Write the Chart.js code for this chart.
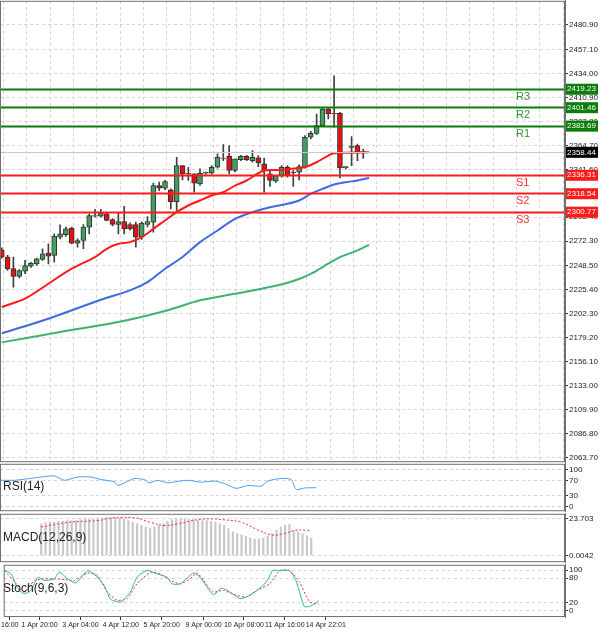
<!DOCTYPE html>
<html lang="en">
<head>
<meta charset="UTF-8">
<title>Gold H4</title>
<script src="https://cdn.jsdelivr.net/npm/chart.js"></script>
<style>
  body { margin: 0; background: #fff; width: 600px; height: 632px; position: relative; overflow: hidden; font-family: "Liberation Sans", Arial, sans-serif; }
  canvas { position: absolute; left: 0; }
  .lbl { position: absolute; left: 3px; font-size: 12px; color: #222; }
</style>
</head>
<body>
<canvas id="main" width="600" height="473" style="top:-5px"></canvas>
<canvas id="rsi" width="600" height="59" style="top:458px"></canvas>
<canvas id="macd" width="600" height="60" style="top:508px"></canvas>
<canvas id="stoch" width="600" height="70" style="top:559px"></canvas>
<div class="lbl" style="top:479px">RSI(14)</div>
<div class="lbl" style="top:530px">MACD(12,26,9)</div>
<div class="lbl" style="top:581px">Stoch(9,6,3)</div>

<script>
// candles (4h bars)
const opens  = [2264,2257,2245.8,2238.4,2243.5,2248.3,2250.5,2254.7,2260.8,2258.6,2276.2,2278.5,2284.9,2270.4,2273,2285.9,2296.4,2296.4,2298.7,2293.2,2288.4,2291.3,2288.4,2288.4,2276.2,2288.4,2290.7,2325.9,2323.4,2321.8,2310.5,2345.2,2337.8,2337.2,2327.5,2337.8,2337.8,2343.6,2352,2354.2,2340.4,2351,2354.2,2350,2352.6,2346.8,2337.2,2330.1,2335.6,2343.6,2338.8,2338.8,2343.6,2372.5,2376.3,2383.7,2399.7,2395.6,2395.6,2342.9,2362.8,2364.4,2358.7];
const highs  = [2266,2258.6,2257,2245,2253.8,2252,2256,2265,2269.8,2279.4,2288.1,2286,2286,2274.6,2288.4,2298.7,2303,2303,2300,2294,2299.3,2306,2290,2290.7,2291,2296.1,2328.2,2329.2,2331,2322.7,2353.2,2345.2,2343.6,2337.2,2342,2339,2345.2,2356.4,2365.4,2364.4,2342,2355,2355,2359.6,2354.8,2352.3,2340.4,2331,2345.2,2345.2,2340.4,2345.8,2374.1,2378.2,2394.9,2401.4,2401.4,2431.8,2396.5,2344.2,2373.1,2366,2361.2];
const lows   = [2256,2244.1,2228.1,2237,2240.9,2247,2249,2253.8,2250.5,2252.2,2274.6,2277,2269.8,2266.6,2265,2279.4,2295.5,2295.5,2292,2287,2279.4,2279.4,2283,2266.6,2274,2286,2281,2321.1,2322,2303.5,2301.9,2331.4,2330.8,2319.5,2326,2337,2337.2,2342.6,2350,2337.2,2339,2350,2350,2348.4,2344.2,2319.5,2325,2329,2334,2334,2325,2331.4,2342.6,2370.9,2375,2382.7,2390.1,2382.1,2333.3,2342,2345.2,2350,2352];
const closes = [2257,2245.8,2238.4,2244.1,2248.9,2251.2,2255.4,2260.2,2257.9,2277.2,2279.4,2284.2,2270.4,2273,2285.9,2297.1,2297.1,2299.3,2292.3,2288.4,2291.3,2284.2,2284.2,2276.2,2289.7,2291.3,2325.9,2323.4,2329.8,2310.5,2345.2,2337.2,2337.2,2328.2,2337.8,2338.8,2343.6,2353.2,2351.6,2340.4,2351.6,2354.2,2351,2353.2,2347.8,2340.4,2330.8,2335.6,2343.6,2335.6,2338.4,2344.2,2372.5,2376.3,2383.7,2399.7,2394.9,2395.3,2342.9,2344.2,2363.8,2358,2358.4];

// moving averages: [bar index, price]
const maRed   = [[0,2208.9],[4,2216.9],[8,2231.3],[12,2245.8],[16,2257],[18,2265],[20,2269.8],[22,2271.4],[24,2276.2],[26,2284.2],[28,2292.3],[30,2300.3],[32,2306.7],[34,2311.5],[36,2316.3],[38,2319.5],[40,2325.9],[42,2330.8],[44,2337.8],[45,2340.4],[48,2341],[51,2342.9],[52,2343.6],[54,2348.4],[56,2354.8],[57,2357.1],[63,2358]];
const maBlue  = [[0,2183.5],[8,2197.6],[17,2215.9],[22,2224.9],[25,2232.9],[28,2245.8],[31,2257],[34,2271.4],[37,2282.6],[40,2293.9],[43,2300.3],[46,2305.1],[49,2308.3],[51,2311.5],[53,2317.9],[55,2322.7],[57,2326.9],[59,2329.2],[61,2330.8],[63,2333.3]];
const maGreen = [[0,2174.8],[10,2184.8],[20,2194.4],[28,2205],[34,2215.3],[40,2221.7],[46,2228.1],[50,2233.9],[53,2240.9],[56,2250.6],[58,2257],[61,2263.4],[63,2268.8]];

const levelNames  = ['R3','R2','R1','S1','S2','S3'];
const levelValues = [2419.23,2401.46,2383.69,2336.31,2318.54,2300.77];
const lastPrice = 2358.44;
const priceTicks = [2480.90,2457.10,2434.00,2410.90,2387.80,2364.70,2341.60,2318.50,2295.40,2272.30,2248.50,2225.40,2202.30,2179.20,2156.10,2133.00,2109.90,2086.80,2063.70];

// indicators
const rsiPts = [[0,71],[2.6,71],[5.2,75],[7.9,80],[10.5,83],[12.5,71],[15.1,80],[17.7,80],[19.7,73],[22.3,67],[23,57],[24.9,68],[26.2,76],[28.2,73],[29.2,64],[30.8,71],[32.8,64],[34.8,68],[36.7,71],[39.4,66],[42,69],[44,62],[46.3,49],[48.6,57],[51.2,55],[52.5,69],[55.1,76],[57.1,73],[58.1,46],[59.7,50],[62,51]];
const macdHist = [20.4,20.9,21.4,21.4,21.9,22,22.5,22.5,22.5,23,23.5,23.5,23.5,24,24,24.5,24.5,24.5,24,23.5,22.5,21.4,20.4,19.3,18.3,17.3,18.3,19.3,20.4,21.9,23,23.5,23.5,23.5,23,23,22.5,22.5,22.5,22,21.4,20.4,19.3,17.3,15.2,14.1,13.1,12.1,11.1,10.5,10.5,11.1,12.6,14.1,16.2,18.3,19.3,19.8,16.2,15.2,14.1,12.6,11.1];
const macdSignal = [[0,18.3],[6.6,21.4],[13.1,22.5],[16.4,24.1],[21.7,24.1],[24.9,21.4],[28.2,19.3],[31.5,20.4],[34.8,22.5],[38.1,23.5],[42,22.9],[45.9,21.4],[49.9,16.2],[53.1,13.1],[55.8,14.1],[58.4,16.2],[61,16.2],[62,15.7]];
const stochK = [[0,99],[1.3,90.4],[2.6,54.1],[3.9,42.1],[5.2,50.1],[6.6,82.3],[7.9,74.3],[9.8,78.3],[10.8,94.4],[12.5,78.3],[14.1,68.6],[16.4,98.4],[17.7,90.4],[19.7,62.2],[21,28.4],[23,21.9],[24.9,46.1],[26.2,82.3],[28.2,99],[30.2,90.4],[32.2,82.3],[33.1,66.2],[34.8,66.2],[37.4,92.8],[38.7,82.3],[41.3,39.6],[43,55.7],[44.6,46.1],[46.6,30],[48.6,38],[51.2,62.2],[52.2,78.3],[53.1,99],[54.5,98.4],[56.4,98.4],[57.7,74.3],[59.4,9.9],[61,13.9],[62.2,25.2]];
const stochD = [[0,98.4],[2,70.3],[3.9,46.1],[5.9,74.3],[7.9,78.3],[9.8,78.3],[11.8,76.7],[13.8,74.3],[16.4,92.8],[18.4,86],[20.3,46.1],[22.3,26],[24.3,30],[26.2,66.2],[28.9,94.4],[30.8,90.4],[32.8,74.3],[34.8,66.2],[36.7,78.3],[38.1,92.8],[39.4,74.3],[41.3,46.1],[43.3,50.1],[45.9,38],[47.9,34],[49.9,50.1],[52.5,66.2],[54.5,98.4],[56.4,99],[58.4,70.3],[60.4,21.9],[62.2,16.3]];

const timeTicks  = [1, 6.9, 15, 23, 31.1, 39.4, 47.4, 55.5, 63.6];
const timeLabels = ['16:00','1 Apr 20:00','3 Apr 04:00','4 Apr 12:00','5 Apr 20:00','9 Apr 00:00','10 Apr 08:00','11 Apr 16:00','14 Apr 22:01'];

Chart.defaults.font.family = '"Liberation Sans", Arial, sans-serif';
Chart.defaults.font.size = 8;
Chart.defaults.color = '#222';

const xy = arr => arr.map(p => ({ x: p[0], y: p[1] }));
const frame = {
  id: 'frame',
  afterDraw(c) {
    const a = c.chartArea, g = c.ctx;
    g.save(); g.strokeStyle = '#707070'; g.lineWidth = 1;
    g.strokeRect(a.left + 0.5, a.top + 0.5, a.right - a.left - 1, a.bottom - a.top - 1);
    g.restore();
  }
};
const dashGrid = { color: '#d4d4d4', lineWidth: 1, drawTicks: true, tickLength: 3, tickColor: '#333' };
function yAxis(min, max, ticks, fmt) {
  return {
    position: 'right', min, max,
    afterFit: s => { s.width = 35; },
    afterBuildTicks: s => { s.ticks = ticks.map(v => ({ value: v })); },
    ticks: { padding: 1, callback: fmt, autoSkip: false },
    grid: dashGrid,
    border: { display: true, color: '#707070', dash: [3, 3] }
  };
}
const baseOpts = {
  responsive: false, animation: false, devicePixelRatio: 1,
  layout: { padding: 0 },
  plugins: { legend: { display: false }, tooltip: { enabled: false } }
};

// ---- main price chart ----
const idx = opens.map((_, i) => i);
const isUp = idx.map(i => closes[i] >= opens[i]);
const levelsPlugin = {
  id: 'levels',
  afterDatasetsDraw(c) {
    const g = c.ctx, y = c.scales.y, a = c.chartArea;
    g.save();
    let py = Math.round(y.getPixelForValue(lastPrice)) + 0.5;
    g.strokeStyle = '#c8c8c8'; g.lineWidth = 1;
    g.beginPath(); g.moveTo(a.left, py); g.lineTo(a.right, py); g.stroke();
    levelValues.forEach((v, i) => {
      const col = i < 3 ? '#0a7d0a' : '#ff1a1a';
      const ly = Math.round(y.getPixelForValue(v)) + 0.5;
      g.strokeStyle = col; g.lineWidth = 2;
      g.beginPath(); g.moveTo(a.left, ly); g.lineTo(a.right, ly); g.stroke();
      g.fillStyle = i < 3 ? '#2e9a2e' : '#ff3030';
      g.font = '11px "Liberation Sans", Arial';
      g.textAlign = 'left'; g.textBaseline = 'middle';
      g.fillText(levelNames[i], 516, ly + 7);
    });
    g.restore();
  },
  afterDraw(c) {
    const g = c.ctx, y = c.scales.y;
    g.save();
    const box = (v, bg) => {
      const by = y.getPixelForValue(v);
      g.fillStyle = bg; g.fillRect(566, by - 5, 32, 11);
      g.fillStyle = '#fff'; g.font = '8px "Liberation Sans", Arial';
      g.textAlign = 'left'; g.textBaseline = 'middle';
      g.fillText(v.toFixed(2), 567, by + 0.5);
    };
    levelValues.forEach((v, i) => box(v, i < 3 ? '#0a7d0a' : '#ff1a1a'));
    box(lastPrice, '#000');
    g.restore();
  }
};

new Chart(document.getElementById('main'), {
  type: 'bar',
  data: {
    datasets: [
      { type: 'line', data: xy(maRed), borderColor: '#ff1a1a', borderWidth: 2, pointRadius: 0, tension: 0.3, order: 0 },
      { type: 'line', data: xy(maBlue), borderColor: '#4169e1', borderWidth: 2, pointRadius: 0, tension: 0.3, order: 0 },
      { type: 'line', data: xy(maGreen), borderColor: '#3cb371', borderWidth: 2, pointRadius: 0, tension: 0.3, order: 0 },
      { data: idx.map(i => ({ x: i, y: [opens[i], closes[i] === opens[i] ? opens[i] + 0.6 : closes[i]] })),
        backgroundColor: isUp.map(u => u ? '#3fa060' : '#e81010'), borderColor: '#303030', borderWidth: 1,
        borderSkipped: false, barThickness: 5, grouped: false, order: 1 },
      { data: idx.map(i => ({ x: i, y: [lows[i], highs[i]] })), backgroundColor: '#404040',
        barThickness: 1, grouped: false, order: 2 }
    ]
  },
  options: {
    ...baseOpts,
    scales: {
      x: {
        type: 'linear', min: -0.3, max: 96.6, offset: false,
        afterFit: s => { s.height = 0; },
        afterBuildTicks: s => { const t = []; for (let v = 2.3; v < 96; v += 4) t.push({ value: v }); s.ticks = t; },
        ticks: { display: false },
        grid: { color: '#d4d4d4', drawTicks: false },
        border: { display: false, dash: [3, 3] }
      },
      y: yAxis(2059.3, 2504.0, priceTicks, v => v.toFixed(2))
    }
  },
  plugins: [levelsPlugin, frame]
});

const subX = (extra) => Object.assign({
  type: 'linear', min: -0.2, max: 111,
  afterFit: s => { s.height = 0; },
  ticks: { display: false },
  grid: { display: false },
  border: { display: false }
}, extra || {});

// ---- RSI ----
new Chart(document.getElementById('rsi'), {
  type: 'line',
  data: { datasets: [{ data: xy(rsiPts), borderColor: '#4a9ef0', borderWidth: 1, pointRadius: 0, tension: 0.2 }] },
  options: { ...baseOpts, scales: { x: subX(), y: yAxis(-13, 115.8, [100, 70, 30, 0], v => String(v)) } },
  plugins: [frame]
});

// ---- MACD ----
new Chart(document.getElementById('macd'), {
  type: 'bar',
  data: { datasets: [
    { type: 'line', data: xy(macdSignal), borderColor: '#ff2a2a', borderWidth: 1, borderDash: [2, 2], pointRadius: 0, tension: 0.4, order: 0 },
    { data: macdHist.map((v, i) => ({ x: i, y: v })), backgroundColor: '#c8c8c8', barThickness: 1.5, order: 1 }
  ] },
  options: { ...baseOpts, scales: { x: subX(), y: yAxis(-4.4, 26.8, [23.703, 0], v => v === 0 ? '0.0042' : '23.703') } },
  plugins: [frame]
});

// ---- Stochastic ----
new Chart(document.getElementById('stoch'), {
  type: 'line',
  data: { datasets: [
    { data: xy(stochK), borderColor: '#2ab5a8', borderWidth: 1, pointRadius: 0, tension: 0.2 },
    { data: xy(stochD), borderColor: '#ff2a2a', borderWidth: 1, borderDash: [2, 2], pointRadius: 0, tension: 0.2 }
  ] },
  options: { ...baseOpts, scales: {
    x: subX({
      afterFit: s => { s.height = 12; },
      afterBuildTicks: s => { s.ticks = timeTicks.map(v => ({ value: v })); },
      ticks: { display: true, autoSkip: false, maxRotation: 0, padding: 1, font: { size: 7 },
        callback: (v, i) => timeLabels[i] },
      grid: { display: true, drawOnChartArea: false, tickLength: 3, tickColor: '#333' }
    }),
    y: yAxis(-15.2, 112.8, [100, 80, 20, 0], v => String(v))
  } },
  plugins: [frame]
});
</script>
</body>
</html>
